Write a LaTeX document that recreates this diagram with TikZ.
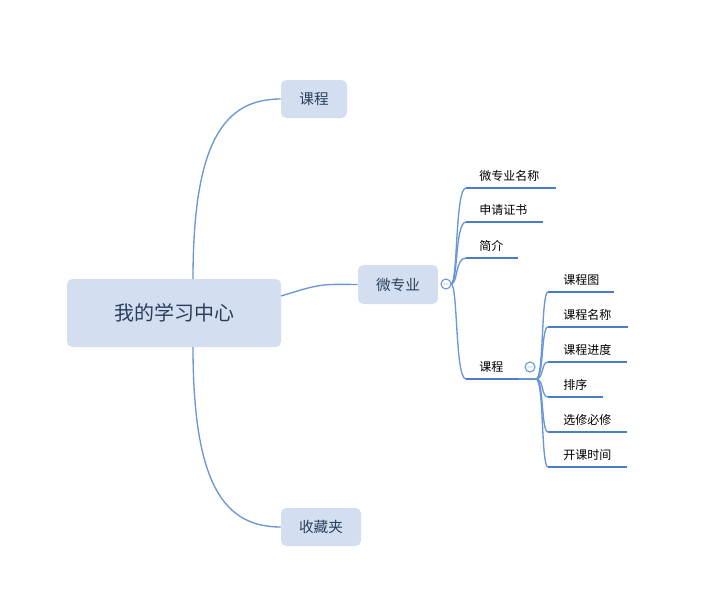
\documentclass[tikz,border=0pt]{standalone}
\usepackage{fontspec}
\setmainfont{Noto Sans CJK SC}
\begin{document}
\begin{tikzpicture}[x=0.75pt,y=-0.75pt,
 box/.style={fill=boxc,rounded corners=4pt,text=navy,inner sep=0pt},
 conn/.style={draw=linec,line width=1pt},
 uline/.style={draw=ulc,line width=2.2pt},
 leaf/.style={anchor=west,font=\fontsize{9}{10}\selectfont,inner sep=0pt},
 tog/.style={circle,draw=linec,fill=white,line width=0.8pt,minimum size=7.5pt,inner sep=0pt,font=\fontsize{6}{6}\selectfont,text=linec}]
\definecolor{boxc}{HTML}{D3DFF0}
\definecolor{navy}{HTML}{2B3F5C}
\definecolor{linec}{HTML}{6A95D6}
\definecolor{ulc}{HTML}{4B7CCB}
\useasboundingbox (0,0) rectangle (713,610);
% boxes
\node[box,minimum width=214*0.75pt,minimum height=68*0.75pt,font=\fontsize{15}{16}\selectfont] (root) at (174,313) {我的学习中心};
\node[box,minimum width=66*0.75pt,minimum height=38*0.75pt,font=\fontsize{11}{12}\selectfont] (kc) at (314,99) {课程};
\node[box,minimum width=80*0.75pt,minimum height=38*0.75pt,font=\fontsize{11}{12}\selectfont] (sc) at (321,527) {收藏夹};
\node[box,minimum width=80*0.75pt,minimum height=39*0.75pt,font=\fontsize{11}{12}\selectfont] (wz) at (398,284.5) {微专业};
\coordinate (rt) at (193,279); \coordinate (rb) at (193,347); \coordinate (rr) at (281,296);
\draw[conn] (rt) .. controls (193,140) and (225,99) .. (kc.west);
\draw[conn] (rb) .. controls (193,486) and (225,527) .. (sc.west);
\draw[conn] (rr) .. controls (320,284) .. (wz.west);
% level 2
\node[tog] (t1) at (446,284) {$-$};
\coordinate (s1) at (451,284);
\foreach \n/\y/\e/\t in {a/188/556/微专业名称, b/222/543/申请证书, c/258/518/简介, d/379/519/课程}{
  \coordinate (\n0) at (466,\y); \coordinate (\n1) at (\e,\y);
  \draw[conn] (s1) .. controls (458,284) and (455,\y) .. (\n0);
  \draw[uline] (\n0) -- (\n1);
  \node[leaf] (\n t) at (479,\y-12) {\t};
}
\coordinate (d2) at (536,379);
\draw[conn] (d1) -- (d2);
\node[tog] (t2) at (530,367) {$-$};
\foreach \n/\y/\e/\t in {p/292/614/课程图, q/327/628/课程名称, r/362/627/课程进度, s/397/603/排序, u/432/627/选修必修, v/467/627/开课时间}{
  \coordinate (\n0) at (548,\y); \coordinate (\n1) at (\e,\y);
  \draw[conn] (d2) .. controls (544,379) and (541,\y) .. (\n0);
  \draw[uline] (\n0) -- (\n1);
  \node[leaf] (\n t) at (563,\y-12) {\t};
}
\end{tikzpicture}
\end{document}
